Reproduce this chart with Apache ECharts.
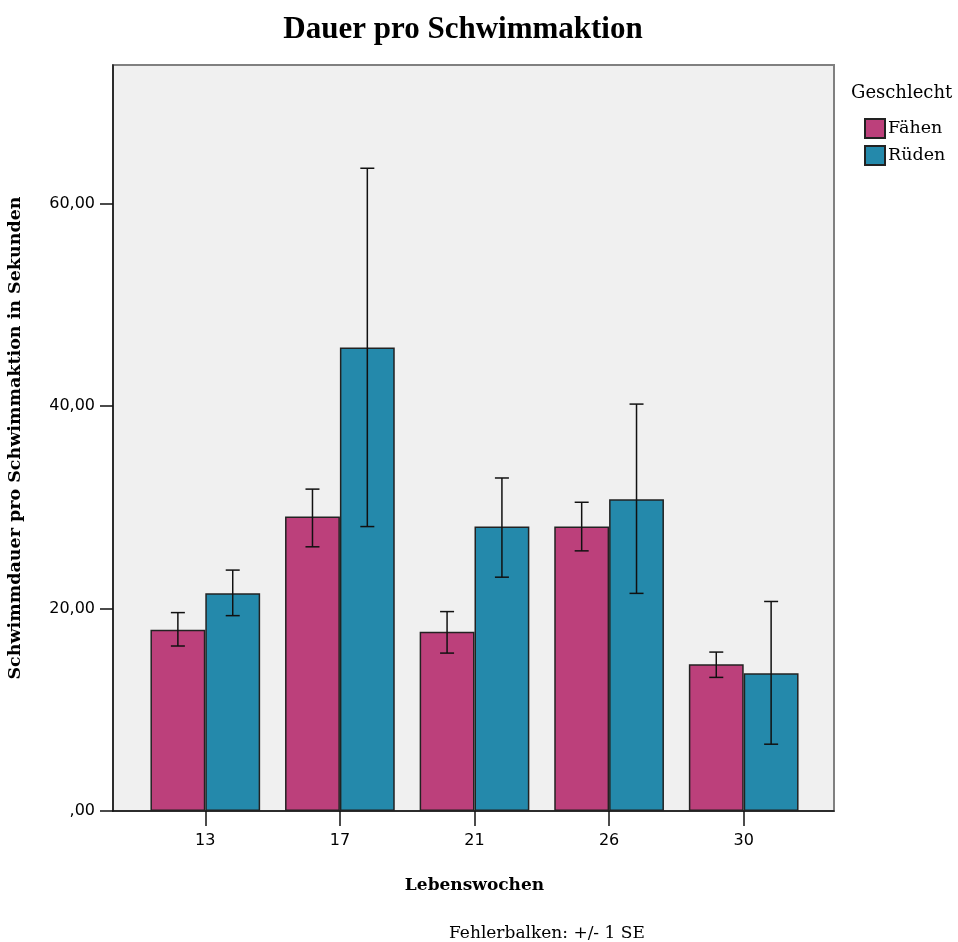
<!DOCTYPE html>
<html><head><meta charset="utf-8">
<script src="https://cdn.jsdelivr.net/npm/echarts@6/dist/echarts.min.js"></script>
<style>html,body{margin:0;padding:0;background:#fff}#c{width:958px;height:942px}</style>
</head><body><div id="c"></div>
<script>
const categories = ['13', '17', '21', '26', '30'];
const femaleMean = [17.9, 29.1, 17.7, 28.1, 14.5];
const femaleLow  = [16.3, 26.1, 15.6, 25.7, 13.2];
const femaleHigh = [19.6, 31.8, 19.7, 30.5, 15.7];
const maleMean   = [21.5, 45.8, 28.1, 30.8, 13.6];
const maleLow    = [19.3, 28.1, 23.1, 21.5, 6.6];
const maleHigh   = [23.8, 63.5, 32.9, 40.2, 20.7];
const yTicks = [0, 20, 40, 60];
const seriesNames = ['Fähen', 'Rüden'];

const TFONT = '"Liberation Serif", "Times New Roman", serif';
const FONT = '"DejaVu Serif", serif';
const SFONT = '"DejaVu Sans", sans-serif';
const YMAX = 73.7;
const GAP = 0.185;

function errItem(side) {
  return function (params, api) {
    const i = api.value(0);
    const band = api.size([1, 0])[0];
    const bw = band * (1 - GAP) / 2;
    const c = api.coord([i, 0]);
    const x = c[0] + side * bw / 2;
    const yl = api.coord([i, api.value(1)])[1];
    const yh = api.coord([i, api.value(2)])[1];
    const cap = 7;
    const st = { stroke: '#111', lineWidth: 1.5 };
    return { type: 'group', children: [
      { type: 'line', shape: { x1: x, y1: yl, x2: x, y2: yh }, style: st },
      { type: 'line', shape: { x1: x - cap, y1: yh, x2: x + cap, y2: yh }, style: st },
      { type: 'line', shape: { x1: x - cap, y1: yl, x2: x + cap, y2: yl }, style: st }
    ]};
  };
}

const chart = echarts.init(document.getElementById('c'), null, { renderer: 'canvas' });
chart.setOption({
  animation: false,
  textStyle: { fontFamily: FONT },
  title: [
    { text: 'Dauer pro Schwimmaktion', left: 458, top: 9, textAlign: 'center',
      textStyle: { fontFamily: TFONT, fontSize: 31, fontWeight: 'bold', color: '#000' } },
    { text: 'Geschlecht', left: 846, top: 79,
      textStyle: { fontFamily: FONT, fontSize: 18, fontWeight: 'normal', color: '#000' } },
    { text: 'Fehlerbalken: +/- 1 SE', left: 444, top: 920,
      textStyle: { fontFamily: FONT, fontSize: 17, fontWeight: 'normal', color: '#000' } }
  ],
  legend: {
    orient: 'vertical', left: 859, top: 113, itemWidth: 20, itemHeight: 19, itemGap: 6,
    icon: 'rect',
    data: seriesNames, selectedMode: false,
    textStyle: { fontFamily: FONT, fontSize: 17.5, color: '#000', padding: [0, 0, 0, -2] }
  },
  grid: [
    { left: 113, top: 65, width: 721, height: 746, show: true, backgroundColor: '#F0F0F0',
      borderColor: '#808080', borderWidth: 2, containLabel: false, outerBoundsMode: 'none' },
    { left: 138, top: 65, width: 673, height: 746, containLabel: false, outerBoundsMode: 'none' }
  ],
  xAxis: [
    { type: 'category', gridIndex: 0, data: categories,
      axisLine: { show: true, lineStyle: { color: '#111', width: 1.5 } },
      axisTick: { show: false }, axisLabel: { show: false } },
    { type: 'category', gridIndex: 1, data: categories,
      name: 'Lebenswochen', nameLocation: 'middle', nameGap: 66,
      nameTextStyle: { fontFamily: FONT, fontSize: 17, fontWeight: 'bold', color: '#000' },
      axisLine: { show: false },
      axisTick: { show: true, alignWithLabel: true, length: 15, lineStyle: { color: '#111', width: 1.5 } },
      axisLabel: { fontFamily: SFONT, fontSize: 16, color: '#000', margin: 22 } }
  ],
  yAxis: [
    { type: 'value', gridIndex: 0, min: 0, max: YMAX, interval: 20,
      name: 'Schwimmdauer pro Schwimmaktion in Sekunden', nameLocation: 'middle', nameGap: 89,
      nameTextStyle: { fontFamily: FONT, fontSize: 17.5, fontWeight: 'bold', color: '#000' },
      axisLine: { show: true, lineStyle: { color: '#111', width: 1.5 } },
      axisTick: { show: true, length: 13, lineStyle: { color: '#111', width: 1.5 } },
      splitLine: { show: false },
      axisLabel: { fontFamily: SFONT, fontSize: 16, color: '#000', margin: 18, showMaxLabel: false,
        formatter: v => yTicks.includes(v) ? (v === 0 ? ',00' : v.toFixed(2).replace('.', ',')) : '' } },
    { type: 'value', gridIndex: 1, min: 0, max: YMAX, interval: 20, show: false, splitLine: { show: false } }
  ],
  series: [
    { name: seriesNames[0], type: 'bar', xAxisIndex: 1, yAxisIndex: 1, data: femaleMean,
      barGap: '0%', barCategoryGap: (GAP * 100) + '%',
      itemStyle: { color: '#BC407B', borderColor: '#222', borderWidth: 1.5 } },
    { name: seriesNames[1], type: 'bar', xAxisIndex: 1, yAxisIndex: 1, data: maleMean,
      barGap: '0%', barCategoryGap: (GAP * 100) + '%',
      itemStyle: { color: '#2489AB', borderColor: '#222', borderWidth: 1.5 } },
    { type: 'custom', xAxisIndex: 1, yAxisIndex: 1, z: 5,
      renderItem: errItem(-1),
      data: categories.map((c, i) => [i, femaleLow[i], femaleHigh[i]]) },
    { type: 'custom', xAxisIndex: 1, yAxisIndex: 1, z: 5,
      renderItem: errItem(1),
      data: categories.map((c, i) => [i, maleLow[i], maleHigh[i]]) }
  ]
});
</script></body></html>
